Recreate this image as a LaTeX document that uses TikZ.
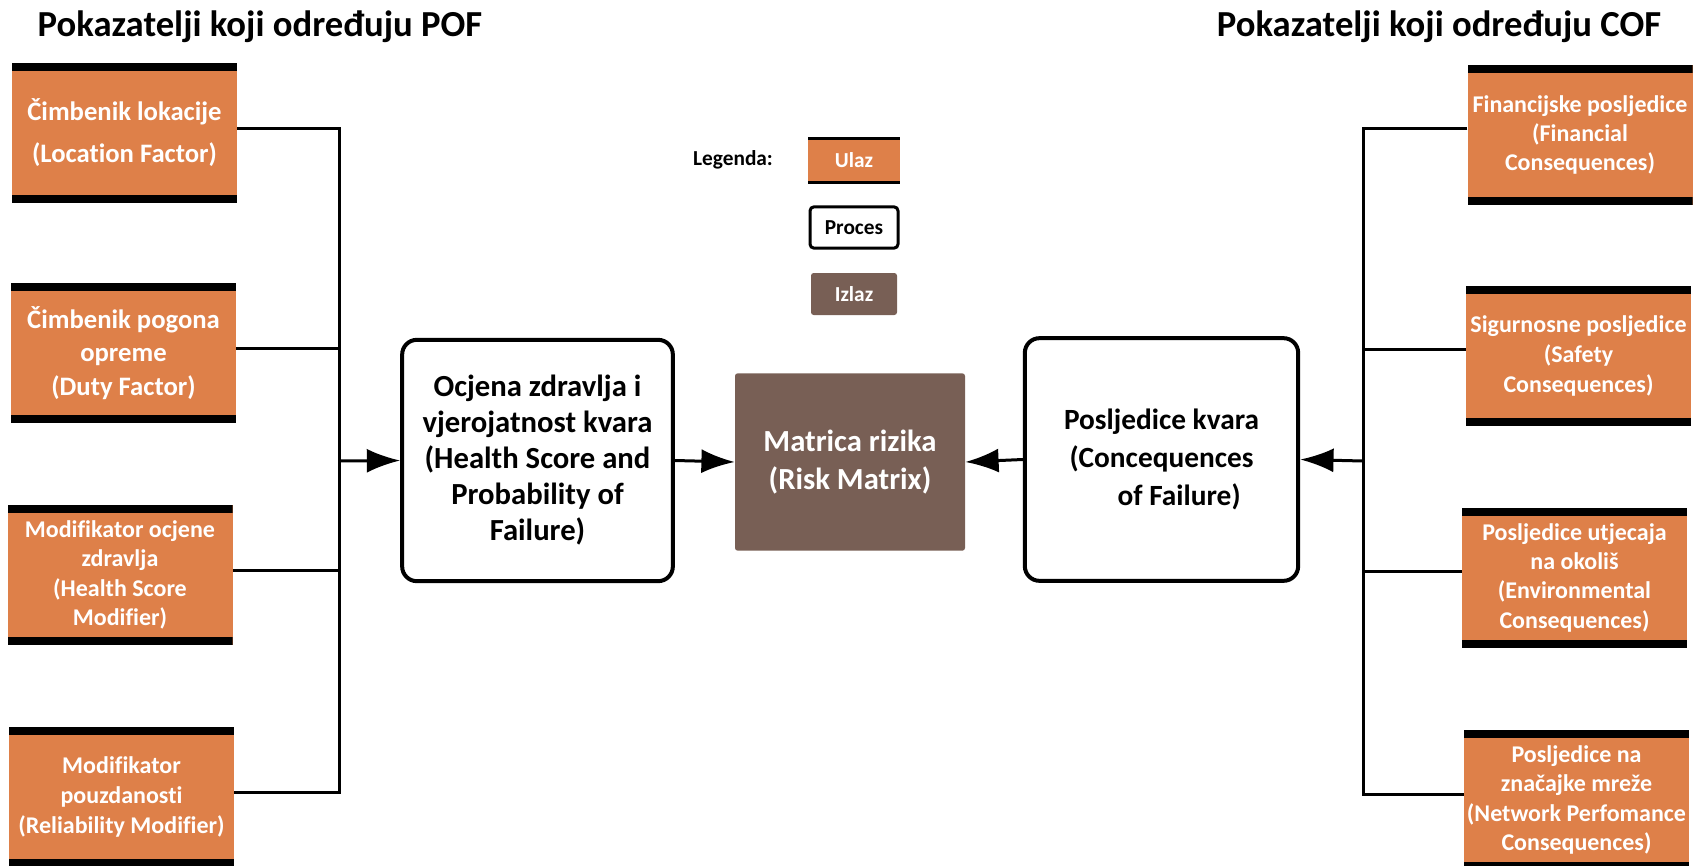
\documentclass[tikz,border=0pt]{standalone}
\usepackage{fontspec}
\setmainfont{Carlito}[Ligatures={NoCommon}]
\usetikzlibrary{arrows.meta}

\definecolor{ulazorange}{HTML}{DE8049}
\definecolor{izlazbrown}{HTML}{785F55}
\newcommand\fsz[2]{\fontsize{#1}{#2}\selectfont\bfseries}

\tikzset{
  barw/.store in=\barw, barw=6pt,
  ulaz/.style={fill=ulazorange, text=white, inner sep=0pt, align=center,
    minimum width=168.75pt, minimum height=105pt,
    path picture={
      \fill[black] (path picture bounding box.north west) rectangle ([yshift=-\barw]path picture bounding box.north east);
      \fill[black] (path picture bounding box.south west) rectangle ([yshift=\barw]path picture bounding box.south east);}},
  proces/.style={draw, line width=3pt, rounded corners=11pt, align=center, inner sep=0pt},
  izlaz/.style={fill=izlazbrown, text=white, rounded corners=2pt, align=center, inner sep=0pt},
  veza/.style={line width=2.25pt},
  strelica/.style={veza, -{Latex[length=25pt,width=18pt]}}
}

\begin{document}
\begin{tikzpicture}[x=0.75pt, y=-0.75pt]
  \useasboundingbox (0,0) rectangle (1694,866);

  \node[anchor=base, font=\fsz{27.5}{33}] (naslov-pof) at (260,37) {Pokazatelji koji određuju POF};
  \node[anchor=base, font=\fsz{27.5}{33}] (naslov-cof) at (1439,37) {Pokazatelji koji određuju COF};

  \node[ulaz, font=\fsz{20}{31.5}] (pof-1) at (124.5,133) {Čimbenik lokacije\\(Location Factor)};
  \node[ulaz, font=\fsz{20}{25}] (pof-2) at (123.5,353) {Čimbenik pogona\\opreme\\(Duty Factor)};
  \node[ulaz, font=\fsz{18}{22}] (pof-3) at (120,575) {Modifikator ocjene\\zdravlja\\(Health Score\\Modifier)};
  \node[ulaz, font=\fsz{18}{22.5}] (pof-4) at (121.5,797) {Modifikator\\pouzdanosti\\(Reliability Modifier)};

  \node[ulaz, font=\fsz{18}{22}] (cof-1) at (1580,135) {Financijske posljedice\\(Financial\\Consequences)};
  \node[ulaz, font=\fsz{18}{22.5}] (cof-2) at (1578.5,355.5) {Sigurnosne posljedice\\(Safety\\Consequences)};
  \node[ulaz, font=\fsz{18}{22}] (cof-3) at (1574.5,577.5) {Posljedice utjecaja\\na okoliš\\(Environmental\\Consequences)};
  \node[ulaz, font=\fsz{18}{22}] (cof-4) at (1576.5,800) {Posljedice na\\značajke mreže\\(Network Perfomance\\Consequences)};

  \node[proces, minimum width=203pt, minimum height=181pt, font=\fsz{23}{27}] (proc-1) at (537.5,460.5)
    {Ocjena zdravlja i\\vjerojatnost kvara\\(Health Score and\\Probability of\\Failure)};
  \node[izlaz, minimum width=172.5pt, minimum height=133pt, font=\fsz{23}{28.5}] (rizik) at (850,462)
    {Matrica rizika\\(Risk Matrix)};
  \node[proces, minimum width=205pt, minimum height=182pt, font=\fsz{22}{28.5}] (proc-2) at (1161.5,459.5)
    {Posljedice kvara\\(Concequences\\\hspace{1.2em}of Failure)};

  \node[font=\fsz{16}{19}] (legenda) at (733,160) {Legenda:};
  \node[ulaz, barw=2.25pt, minimum width=69pt, minimum height=35pt, font=\fsz{16}{19}] (leg-ulaz) at (854,160.5) {Ulaz};
  \node[proces, line width=2.25pt, rounded corners=3pt, minimum width=66pt, minimum height=31pt, font=\fsz{16}{19}] (leg-proces) at (854,227.5) {Proces};
  \node[izlaz, minimum width=64.5pt, minimum height=31.5pt, font=\fsz{16}{19}] (leg-izlaz) at (854,294) {Izlaz};

  \coordinate (pofbus) at (339,461);
  \coordinate (cofbus) at (1363,461);

  \foreach \n in {pof-1,pof-2,pof-3,pof-4}
    \draw[veza] ([yshift=3.5pt]\n.east) -| (pofbus);
  \foreach \n in {cof-1,cof-2,cof-3,cof-4}
    \draw[veza] ([yshift=4.5pt]\n.west) -| (cofbus);

  \draw[strelica] (pofbus) -- (proc-1.west);
  \draw[strelica] (cofbus) -- (proc-2.east);
  \draw[strelica] (proc-1.east) -- (rizik.west);
  \draw[strelica] (proc-2.west) -- (rizik.east);
\end{tikzpicture}
\end{document}
